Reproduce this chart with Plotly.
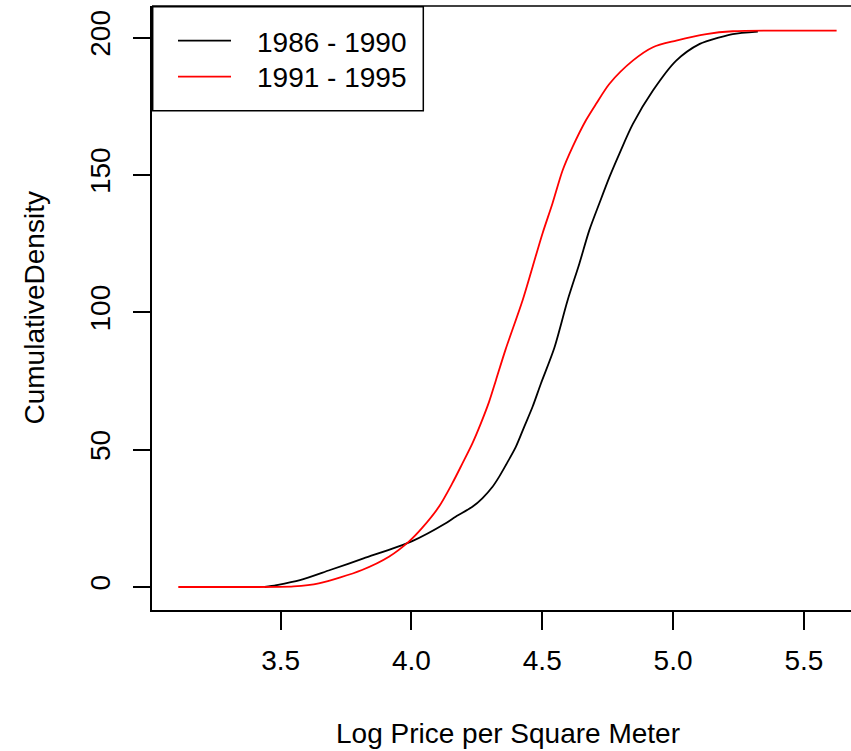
import plotly.graph_objects as go

# Cumulative density of log price per square meter, two sale periods
period_labels = ["1986 - 1990", "1991 - 1995"]
period_colors = ["#000000", "#FF0000"]

log_price_8690 = [3.439, 3.484, 3.574, 3.689, 3.817, 4.003, 4.131, 4.169, 4.233,
                  4.271, 4.310, 4.335, 4.361, 4.399, 4.431, 4.463, 4.495, 4.546,
                  4.597, 4.642, 4.680, 4.718, 4.757, 4.795, 4.846, 4.923, 5.012,
                  5.102, 5.178, 5.228, 5.324]
cum_8690 = [0.0, 0.7, 2.5, 6.2, 10.4, 16.7, 23.2, 25.6, 29.2,
            32.3, 36.5, 40.1, 44.4, 51.0, 58.3, 65.6, 74.1, 87.0,
            104.4, 117.8, 129.9, 139.6, 149.3, 157.8, 168.5, 180.7, 191.6,
            197.7, 200.1, 201.3, 202.2]

log_price_9195 = [3.109, 3.350, 3.550, 3.646, 3.811, 3.914, 3.990, 4.041, 4.105,
                  4.156, 4.195, 4.233, 4.265, 4.297, 4.323, 4.360, 4.425, 4.463,
                  4.501, 4.539, 4.578, 4.616, 4.667, 4.706, 4.757, 4.846, 4.923,
                  5.012, 5.127, 5.228, 5.625]
cum_9195 = [0.0, 0.0, 0.2, 1.3, 6.2, 11.0, 16.5, 21.5, 29.2,
            37.7, 45.0, 52.3, 59.5, 67.5, 75.3, 86.5, 104.4, 116.5,
            128.7, 139.6, 151.7, 160.2, 169.9, 175.9, 183.2, 191.6, 196.5,
            198.9, 201.3, 202.3, 202.5]

x_ticks = [3.5, 4.0, 4.5, 5.0, 5.5]
x_tick_text = ["3.5", "4.0", "4.5", "5.0", "5.5"]
y_ticks = [0, 50, 100, 150, 200]
y_tick_text = ["0", "50", "100", "150", "200"]

x_title = "Log Price per Square Meter"
y_title = "CumulativeDensity"

# page geometry (pixels)
W, H = 851, 751
L, T, B = 152, 6, 141
plot_w = W - L
plot_h = H - T - B


def px(xp):
    return (xp - L) / plot_w


def py(yp):
    return (H - B - yp) / plot_h


FONT = "Liberation Sans, Arial, sans-serif"
FS = 28
LW = 1.5

fig = go.Figure()
series = [(log_price_8690, cum_8690), (log_price_9195, cum_9195)]
for (xs, ys), name, col in zip(series, period_labels, period_colors):
    fig.add_trace(go.Scatter(
        x=xs, y=ys, mode="lines", name=name,
        line=dict(color=col, width=1.8, shape="spline", smoothing=0.8),
        showlegend=False,
    ))

axis_common = dict(
    showgrid=False, zeroline=False, showline=True, linecolor="black",
    linewidth=LW, ticks="outside", tickcolor="black", tickwidth=LW,
    tickfont=dict(family=FONT, size=FS, color="black"),
)
fig.update_xaxes(range=[3.0085, 5.680], tickvals=x_ticks, ticktext=x_tick_text,
                 ticklen=18, ticklabelstandoff=7, **axis_common)
fig.update_yaxes(range=[-8.37, 211.5], tickvals=y_ticks, ticktext=y_tick_text,
                 ticklen=17, tickangle=-90, ticklabelstandoff=12, **axis_common)

shapes = [
    # top frame line
    dict(type="line", xref="paper", yref="paper", x0=0, x1=1, y0=1, y1=1,
         line=dict(color="black", width=LW)),
    # legend box
    dict(type="rect", xref="paper", yref="paper",
         x0=px(152.7), x1=px(423.3), y0=py(110.7), y1=py(6.7),
         line=dict(color="black", width=LW), fillcolor="white"),
]
annotations = [
    dict(text=x_title, xref="paper", yref="paper", x=px(508), y=py(733),
         xanchor="center", yanchor="middle", showarrow=False,
         font=dict(family=FONT, size=FS, color="black")),
    dict(text=y_title, xref="paper", yref="paper", x=px(34), y=py(308.5),
         xanchor="center", yanchor="middle", showarrow=False, textangle=-90,
         font=dict(family=FONT, size=FS, color="black")),
]
for i, (name, col) in enumerate(zip(period_labels, period_colors)):
    line_y = [40.7, 76.7][i]
    text_y = [42.5, 77.5][i]
    shapes.append(dict(type="line", xref="paper", yref="paper",
                       x0=px(178), x1=px(231), y0=py(line_y), y1=py(line_y),
                       line=dict(color=col, width=1.8)))
    annotations.append(dict(text=name, xref="paper", yref="paper",
                            x=px(255), y=py(text_y), xanchor="left",
                            yanchor="middle", showarrow=False,
                            font=dict(family=FONT, size=FS, color="black")))

fig.update_layout(
    width=W, height=H,
    margin=dict(l=L, r=0, t=T, b=B, pad=0),
    paper_bgcolor="white", plot_bgcolor="white",
    shapes=shapes, annotations=annotations,
    showlegend=False,
)

fig.write_html("out.html", config={"displayModeBar": False})
